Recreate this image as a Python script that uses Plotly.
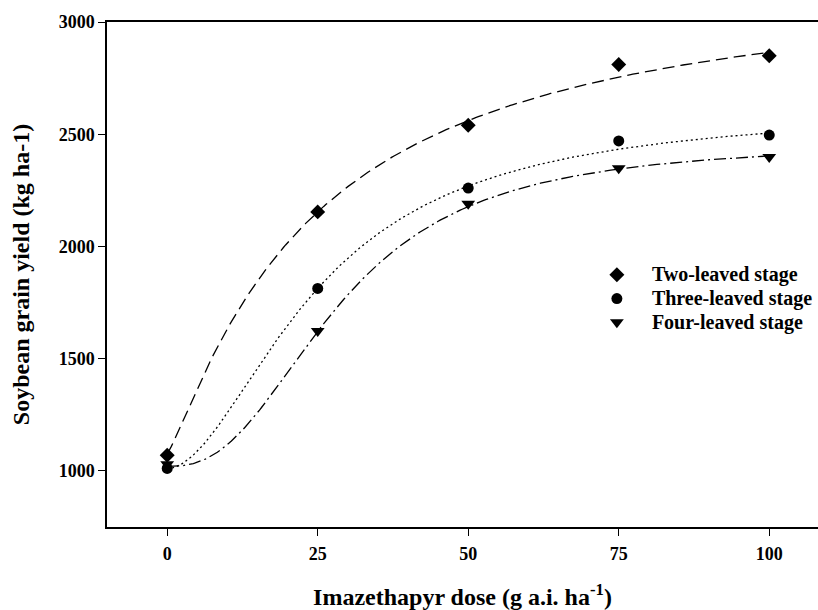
import numpy as np
import plotly.graph_objects as go

# ---- data ----
dose = [0, 25, 50, 75, 100]
two_leaved = [1070, 2154, 2540, 2811, 2850]
three_leaved = [1011, 1813, 2260, 2470, 2496]
four_leaved = [1030, 1623, 2190, 2348, 2398]
series_names = ["Two-leaved stage", "Three-leaved stage", "Four-leaved stage"]

# fitted regression curves (Hill type: y = y0 + a*x^n/(c^n + x^n)), parameters
fit_y0 = [1075, 1010, 1020]
fit_a = [2151, 1611, 1444]
fit_c = [24.85, 25.08, 28.6]
fit_n = [1.15, 1.85, 2.5]

x_ticks = [0, 25, 50, 75, 100]
y_ticks = [1000, 1500, 2000, 2500, 3000]

symbols = ["diamond", "circle", "triangle-down"]
marker_sizes = [11.5, 11, 12]
dashes = ["12px,6px", "2px,3px", "12px,4px,2px,4px"]

FONT = "Liberation Serif"
fig = go.Figure()

xs = np.linspace(0, 100, 301)
for i in range(3):
    ys = fit_y0[i] + fit_a[i] * xs ** fit_n[i] / (fit_c[i] ** fit_n[i] + xs ** fit_n[i])
    fig.add_trace(go.Scatter(x=xs, y=ys, mode="lines", showlegend=False, hoverinfo="skip",
                             line=dict(color="black", width=1.3, dash=dashes[i])))

for i, vals in enumerate([two_leaved, three_leaved, four_leaved]):
    fig.add_trace(go.Scatter(
        x=dose, y=vals, mode="markers",
        name="<span style='font-size:20px'>\u00a0\u00a0\u00a0" + series_names[i] + "</span>",
        marker=dict(symbol=symbols[i], size=marker_sizes[i], color="black", line=dict(width=0))))

fig.update_layout(
    width=818, height=610,
    margin=dict(l=107, r=0, t=22, b=83),
    paper_bgcolor="white", plot_bgcolor="white",
    font=dict(family=FONT, color="black"),
    showlegend=True,
    legend=dict(x=0.689, y=0.533, xanchor="left", yanchor="top",
                font=dict(family=FONT, size=16, color="black", weight="bold"),
                bgcolor="rgba(0,0,0,0)", borderwidth=0),
    xaxis=dict(range=[-10, 108.1], tickvals=x_ticks, ticktext=[str(v) for v in x_ticks],
               showgrid=False, zeroline=False, showline=True, mirror=True,
               linecolor="black", linewidth=1.5, ticks="outside", ticklen=7, tickwidth=1.2,
               tickcolor="black", tickfont=dict(family=FONT, size=18, weight="bold"),
               ticklabelstandoff=3,
               title=dict(text="Imazethapyr dose (g a.i. ha<sup>-1</sup>)",
                          font=dict(family=FONT, size=24, weight="bold"), standoff=26)),
    yaxis=dict(range=[750, 3000], tickvals=y_ticks, ticktext=[str(v) for v in y_ticks],
               showgrid=False, zeroline=False, showline=True, mirror=False,
               linecolor="black", linewidth=1.5, ticks="outside", ticklen=7, tickwidth=1.2,
               tickcolor="black", tickfont=dict(family=FONT, size=18, weight="bold"),
               title=dict(text="Soybean grain yield (kg ha-1)",
                          font=dict(family=FONT, size=24, weight="bold"), standoff=22)),
)

fig.write_html("out.html")
